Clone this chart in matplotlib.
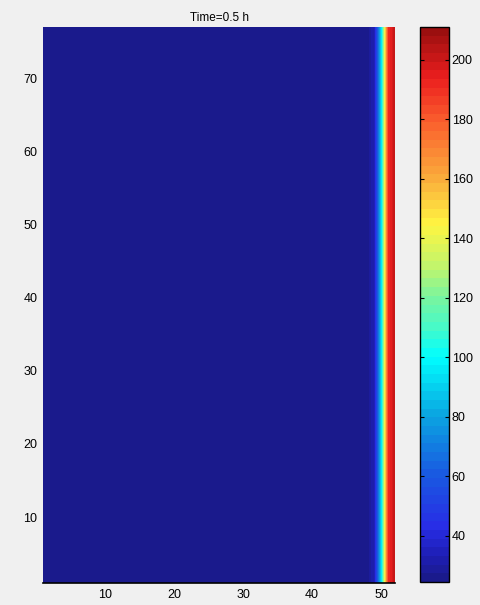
import numpy as np
import matplotlib.pyplot as plt
from matplotlib.colors import LinearSegmentedColormap, Normalize
from matplotlib.cm import ScalarMappable

# temperature-like profile along x (same for every row)
x_nodes = np.arange(1, 53)
y_nodes = np.arange(1, 78)
profile = [25.0] * 47 + [26.0, 34.0, 92.0, 190.0, 203.0]
clim = (24.5, 211.0)
title_text = "Time=0.5 h"
x_ticks = [10, 20, 30, 40, 50]
y_ticks = [10, 20, 30, 40, 50, 60, 70]
cbar_ticks = [40, 60, 80, 100, 120, 140, 160, 180, 200]

# colour map as it looks in the picture (value -> rgb)
cmap_values = [24.5, 32, 42, 60, 80, 100, 110, 120, 130, 145, 160, 180, 195, 211]
cmap_rgb = [(26, 26, 140), (30, 30, 180), (40, 45, 230), (25, 90, 225),
            (10, 165, 225), (0, 255, 255), (70, 250, 200), (120, 245, 160),
            (190, 245, 110), (255, 245, 65), (250, 175, 60), (250, 95, 45),
            (235, 30, 30), (155, 15, 15)]

plt.rcParams['font.family'] = ['Liberation Sans', 'DejaVu Sans']
plt.rcParams['font.size'] = 8.5

nodes = [(v - clim[0]) / (clim[1] - clim[0]) for v in cmap_values]
cmap = LinearSegmentedColormap.from_list(
    'pic', list(zip(nodes, [tuple(c / 255 for c in rgb) for rgb in cmap_rgb])), N=64)
norm = Normalize(vmin=clim[0], vmax=clim[1])

Z = np.tile(np.array(profile), (len(y_nodes), 1))
X, Y = np.meshgrid(x_nodes, y_nodes)

fig = plt.figure(figsize=(4.81, 6.05), dpi=100)
fig.patch.set_facecolor('#f0f0f0')
ax = fig.add_axes([43/481, 22/605, 352/481, 556/605])
levels = np.linspace(clim[0] - 0.01, clim[1] + 0.01, 65)
ax.contourf(X, Y, Z, levels=levels, cmap=cmap, norm=norm, antialiased=False)
ax.set_xlim(1, 52)
ax.set_ylim(1, 77)
ax.set_xticks(x_ticks)
ax.set_yticks(y_ticks)
ax.tick_params(length=0, pad=4, labelsize=9)
for s in ['left', 'top', 'right']:
    ax.spines[s].set_visible(False)
ax.spines['bottom'].set_linewidth(1.2)
ax.set_title(title_text, fontsize=8.5, pad=4)

cax = fig.add_axes([420/481, 23/605, 29/481, 555/605])
cb = fig.colorbar(ScalarMappable(norm=norm, cmap=cmap), cax=cax, ticks=cbar_ticks)
cb.outline.set_linewidth(1)
cax.tick_params(direction='in', length=3, width=0.8, left=True, right=True, pad=2, labelsize=9)

plt.savefig("out.png", dpi=100, facecolor=fig.get_facecolor())
